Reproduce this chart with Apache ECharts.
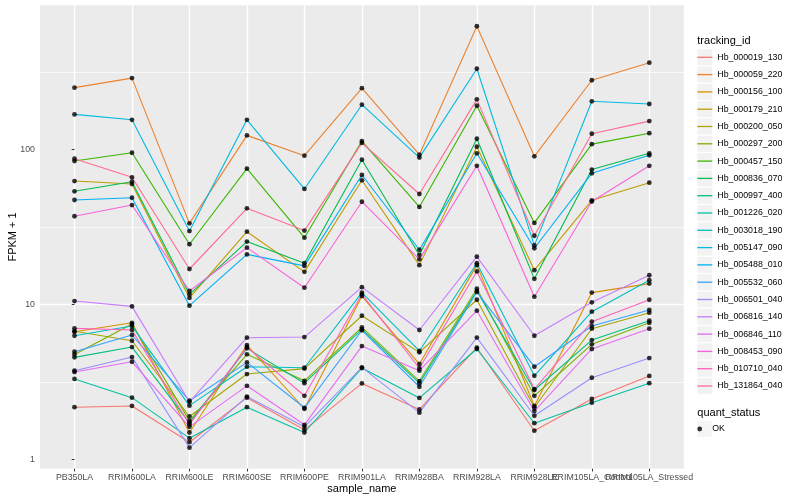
<!DOCTYPE html>
<html><head><meta charset="utf-8">
<script src="https://cdn.jsdelivr.net/npm/echarts@6/dist/echarts.min.js"></script>
<style>html,body{margin:0;padding:0;background:#fff}#c{width:800px;height:500px}</style>
</head><body><div id="c"></div>
<script>
// ---------- data ----------
const categories = ["PB350LA","RRIM600LA","RRIM600LE","RRIM600SE","RRIM600PE","RRIM901LA","RRIM928BA","RRIM928LA","RRIM928LE","RRIM105LA_Control","RRIM105LA_Stressed"];
const trackingIds = ["Hb_000019_130","Hb_000059_220","Hb_000156_100","Hb_000179_210","Hb_000200_050","Hb_000297_200","Hb_000457_150","Hb_000836_070","Hb_000997_400","Hb_001226_020","Hb_003018_190","Hb_005147_090","Hb_005488_010","Hb_005532_060","Hb_006501_040","Hb_006816_140","Hb_006846_110","Hb_008453_090","Hb_010710_040","Hb_131864_040"];
const seriesColors = ["#F8766D","#EA8331","#D89000","#C09B00","#A3A500","#7CAE00","#39B600","#00BB4E","#00BF7D","#00C1A3","#00BFC4","#00BAE0","#00B0F6","#35A2FF","#9590FF","#C77CFF","#E76BF3","#FA62DB","#FF62BC","#FF6C91"];

// FPKM + 1 values, one array per tracking_id (order of categories)
const hb_000019_130 = [2.17, 2.21, 1.29, 2.5, 1.55, 3.09, 2.1, 5.25, 1.53, 2.45, 3.45];
const hb_000059_220 = [250, 288, 33.3, 123, 91, 248, 92.3, 622, 90.1, 279, 362];
const hb_000156_100 = [6.66, 7.6, 1.49, 5.46, 2.12, 11.3, 4.12, 17.9, 2.21, 11.9, 13.6];
const hb_000179_210 = [62.4, 59.7, 11.0, 29.4, 16.2, 63.1, 17.9, 104, 16.6, 46.9, 60.9];
const hb_000200_050 = [6.7, 5.82, 1.89, 3.55, 3.85, 8.44, 4.9, 10.7, 2.16, 6.96, 8.83];
const hb_000297_200 = [4.75, 7.46, 1.77, 4.76, 3.21, 7.1, 3.2, 12.6, 2.57, 5.52, 7.6];
const hb_000457_150 = [84, 95, 24.4, 75, 26.9, 113, 42.5, 191, 33.5, 108, 127];
const hb_000836_070 = [53.6, 61.8, 11.6, 25.4, 18.4, 85.7, 20.8, 117, 14.6, 74, 94.2];
const hb_000997_400 = [4.55, 5.3, 1.72, 5.2, 3.1, 6.9, 3.1, 12.2, 2.8, 5.88, 7.84];
const hb_001226_020 = [3.3, 2.5, 1.37, 2.17, 1.49, 3.88, 2.49, 5.15, 1.71, 2.32, 3.1];
const hb_003018_190 = [6.27, 7.24, 2.22, 3.96, 3.9, 11.9, 5.0, 18.4, 3.46, 8.96, 14.3];
const hb_005147_090 = [168, 155, 29.7, 155, 55.5, 194, 88.4, 331, 24, 204, 196];
const hb_005488_010 = [47.1, 48.7, 9.8, 21, 17.7, 68.3, 22.5, 94.2, 23, 70, 91.5];
const hb_005532_060 = [4.95, 6.34, 2.39, 4.22, 2.15, 6.8, 2.94, 12.0, 3.96, 7.24, 9.19];
const hb_006501_040 = [3.73, 4.57, 1.19, 2.54, 1.62, 3.92, 2.0, 6.1, 1.91, 3.36, 4.5];
const hb_006816_140 = [10.5, 9.7, 2.35, 6.09, 6.15, 12.9, 6.83, 20.3, 6.27, 10.3, 15.4];
const hb_006846_110 = [3.66, 4.26, 1.62, 2.98, 1.67, 5.38, 3.73, 9.1, 2.05, 5.15, 6.96];
const hb_008453_090 = [37, 43.7, 12.2, 23.2, 12.8, 45.9, 19.5, 78.3, 11.2, 46, 78.3];
const hb_010710_040 = [7.0, 6.83, 1.68, 5.3, 2.57, 11.6, 3.87, 16.3, 2.84, 7.72, 10.7];
const hb_131864_040 = [87, 66, 16.9, 41.6, 29.9, 110, 51.5, 210, 27.7, 126, 152];

const yTickLabels = [1, 10, 100];
const yMinorGrid = [Math.sqrt(10), 10 * Math.sqrt(10), 100 * Math.sqrt(10)];
const quantStatus = ["OK"];

// ---------- build ----------
const allValues = [hb_000019_130, hb_000059_220, hb_000156_100, hb_000179_210, hb_000200_050, hb_000297_200, hb_000457_150, hb_000836_070, hb_000997_400, hb_001226_020, hb_003018_190, hb_005147_090, hb_005488_010, hb_005532_060, hb_006501_040, hb_006816_140, hb_006846_110, hb_008453_090, hb_010710_040, hb_131864_040];
const FONT = '"Liberation Sans", Arial, Helvetica, sans-serif';
const catIdx = categories.map((c, i) => i);
const evenIdx = catIdx.filter(i => i % 2 === 0);
const oddIdx = catIdx.filter(i => i % 2 === 1);
const Y_MIN = Math.pow(10, -0.0604), Y_MAX = Math.pow(10, 2.930);

const lineSeries = trackingIds.map((id, k) => ({
  type: 'line', name: id,
  data: allValues[k].map((v, i) => [i, v]),
  symbol: 'none', showSymbol: false,
  lineStyle: { color: seriesColors[k], width: 1.1 },
  itemStyle: { color: seriesColors[k] },
  emphasis: { disabled: true }, silent: true, z: 2
}));
// minor horizontal panel grid lines (half decades)
lineSeries[0].markLine = {
  silent: true, animation: false, z: 1, symbol: ['none', 'none'],
  label: { show: false },
  lineStyle: { color: '#FFFFFF', type: 'solid', width: 0.7 },
  emphasis: { disabled: true },
  data: yMinorGrid.map(v => ({ yAxis: v }))
};

const pointData = [];
allValues.forEach(arr => arr.forEach((v, i) => pointData.push([i, v])));
const pointSeries = {
  type: 'scatter', name: quantStatus[0], data: pointData,
  symbol: 'circle', symbolSize: 4.8, itemStyle: { color: '#000' },
  emphasis: { disabled: true }, silent: true, z: 3
};

const legendBase = { orient: 'vertical', left: 697.3, padding: 0, itemGap: 1.3, itemWidth: 15, selectedMode: false, icon: 'rect' };
const isDecade = v => { const l = Math.log10(v); return Math.abs(l - Math.round(l)) < 1e-6; };
const xLabelStyle = { fontSize: 8.8, color: '#4D4D4D', margin: 4.5, fontFamily: FONT,
  hideOverlap: false, showMinLabel: true, showMaxLabel: true, formatter: v => categories[Math.round(v)] };

const option = {
  animation: false,
  backgroundColor: '#ffffff',
  textStyle: { fontFamily: FONT },
  title: [
    { text: 'tracking_id', left: 697.3, top: 34.3, padding: 0, textStyle: { fontSize: 11, fontWeight: 'normal', color: '#000', fontFamily: FONT, lineHeight: 13 } },
    { text: 'quant_status', left: 697.3, top: 406.5, padding: 0, textStyle: { fontSize: 11, fontWeight: 'normal', color: '#000', fontFamily: FONT, lineHeight: 13 } }
  ],
  legend: [
    Object.assign({}, legendBase, { top: 49.3, itemHeight: 16, data: trackingIds, z: 1, itemStyle: { color: '#F2F2F2', borderWidth: 0 }, textStyle: { color: 'rgba(0,0,0,0)', fontSize: 8.8, lineHeight: 16, fontFamily: FONT } }),
    Object.assign({}, legendBase, { top: 49.3, itemHeight: 1.3, data: trackingIds, z: 2, itemStyle: { borderWidth: 0 }, textStyle: { color: '#000', fontSize: 8.8, lineHeight: 16, fontFamily: FONT } }),
    Object.assign({}, legendBase, { top: 421, itemHeight: 16, data: quantStatus, z: 1, itemStyle: { color: '#F2F2F2', borderWidth: 0 }, textStyle: { color: 'rgba(0,0,0,0)', fontSize: 8.8, lineHeight: 16, fontFamily: FONT } }),
    Object.assign({}, legendBase, { top: 421, itemHeight: 4.8, icon: 'circle', data: quantStatus, z: 2, itemStyle: { color: '#000', borderWidth: 0 }, textStyle: { color: '#000', fontSize: 8.8, lineHeight: 16, fontFamily: FONT } })
  ],
  grid: { left: 40, right: 116.2, top: 5.15, bottom: 31.3, show: true, backgroundColor: '#EBEBEB', borderWidth: 0, containLabel: false, outerBoundsMode: 'none' },
  xAxis: [{
    type: 'value', min: -0.6, max: 10.6, position: 'bottom',
    axisLine: { show: false },
    axisTick: { show: true, length: 2.75, customValues: catIdx, lineStyle: { color: '#333333', width: 1 } },
    axisLabel: Object.assign({ customValues: evenIdx }, xLabelStyle),
    splitLine: { show: true, lineStyle: { color: '#FFFFFF', width: 1.4 } },
    name: 'sample_name', nameLocation: 'middle', nameGap: 15, nameMoveOverlap: false,
    nameTextStyle: { fontSize: 11, color: '#000', fontFamily: FONT }
  }, {
    type: 'value', min: -0.6, max: 10.6, position: 'bottom', offset: 0,
    axisLine: { show: false }, axisTick: { show: false, customValues: oddIdx },
    axisLabel: Object.assign({ customValues: oddIdx }, xLabelStyle), splitLine: { show: false }
  }],
  yAxis: [{
    type: 'log', logBase: 10, min: Y_MIN, max: Y_MAX,
    axisLine: { show: false },
    axisTick: { show: true, length: 2.75, customValues: yTickLabels, lineStyle: { color: '#333333', width: 1 } },
    axisLabel: { formatter: v => isDecade(v) ? String(Math.round(v)) : '', fontSize: 8.8, color: '#4D4D4D', margin: 5, fontFamily: FONT, showMinLabel: true, showMaxLabel: true },
    splitLine: { show: true, showMinLine: false, showMaxLine: false, lineStyle: { color: '#FFFFFF', width: 1.4 } },
    name: 'FPKM + 1', nameLocation: 'middle', nameGap: 22, nameRotate: 90, nameMoveOverlap: false,
    nameTextStyle: { fontSize: 11, color: '#000', fontFamily: FONT }
  }],
  series: lineSeries.concat([pointSeries])
};

const chart = echarts.init(document.getElementById('c'));
chart.setOption(option);
</script>
</body></html>
